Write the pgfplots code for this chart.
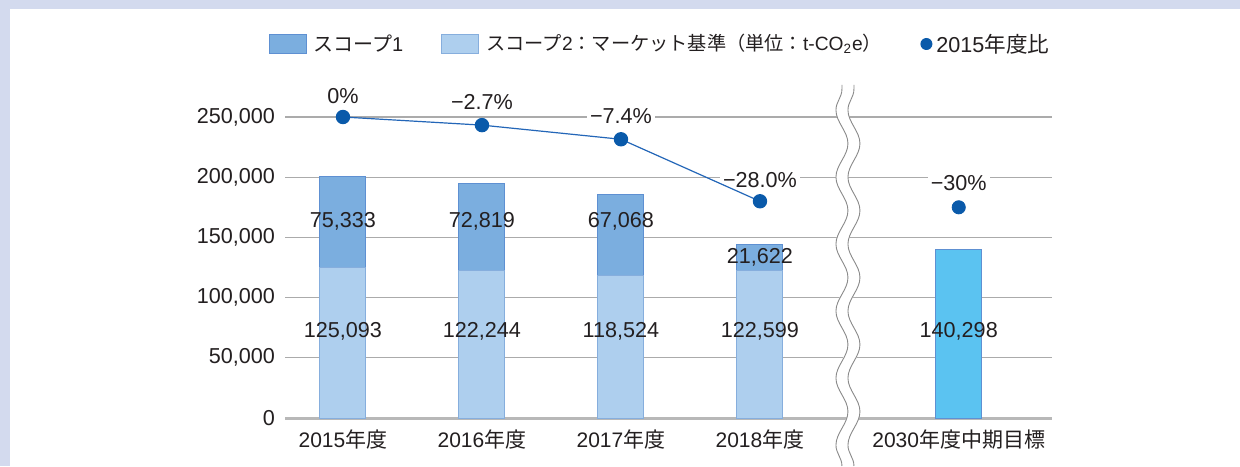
\documentclass[border=0pt]{standalone}
\usepackage{fontspec}
\setmainfont{Liberation Sans}
\newfontfamily\cjk{Noto Sans CJK JP}
\usepackage{pgfplots}
\usepackage{pgfplotstable}
\pgfplotsset{compat=1.18}
\usetikzlibrary{decorations.pathmorphing}

\definecolor{sOne}{HTML}{7BAEDF}
\definecolor{sOneB}{HTML}{5E90D2}
\definecolor{sTwo}{HTML}{AECFEE}
\definecolor{sTwoB}{HTML}{86AEDD}
\definecolor{tgt}{HTML}{5BC3F1}
\definecolor{tgtB}{HTML}{5E90D2}
\definecolor{mk}{HTML}{0A5AAA}
\definecolor{ln}{HTML}{2366B8}
\definecolor{gridc}{HTML}{ABABAB}
\definecolor{txt}{HTML}{231F20}
\definecolor{framec}{HTML}{D3DAEE}
\definecolor{brk}{HTML}{8A8A8A}

\pgfplotstableread{
x s2 s1
0 125093 75333
1 122244 72819
2 118524 67068
3 122599 21622
}\emissions

\pgfplotstableread{
x v
4.43 140298
}\target

\pgfplotstableread{
x r
0 250000
1 243250
2 231500
3 180000
}\ratio

\pgfplotstableread{
x r
4.43 175000
}\ratiotarget

\newcommand{\numfont}{\fontsize{10.8}{12}\selectfont}

\begin{document}
\begin{tikzpicture}[x=1pt,y=1pt]
\fill[white] (0,0) rectangle (620,233);
\fill[framec] (0,228.5) rectangle (620,233);
\fill[framec] (0,0) rectangle (5,233);
\useasboundingbox (0,0) rectangle (620,233);

% legend
\fill[sOne, draw=sOneB, line width=0.4pt] (134.5,206.5) rectangle (153,216);
\node[anchor=west, inner sep=0pt, text=txt, font=\fontsize{10}{12}\selectfont] at (156.5,211) {{\cjk スコープ}1};
\fill[sTwo, draw=sTwoB, line width=0.4pt] (220.5,206.5) rectangle (239,216);
\node[anchor=west, inner sep=0pt, text=txt, font=\fontsize{9.6}{12}\selectfont] at (243,211) {{\cjk スコープ}2{\cjk ：マーケット基準（単位：}t-CO\textsubscript{2}e{\cjk ）}};
\fill[mk] (463.2,211) circle (3pt);
\node[anchor=west, inner sep=0pt, text=txt, font=\fontsize{10.8}{12}\selectfont] at (468,211) {2015{\cjk 年度比}};

\begin{axis}[
  at={(142.5pt,24pt)}, anchor=south west,
  scale only axis, width=383.5pt, height=150.5pt,
  xmin=-0.417, xmax=5.101, ymin=0, ymax=250000,
  clip=false,
  axis line style={draw=none},
  major tick length=0pt,
  ytick={0,50000,100000,150000,200000,250000},
  yticklabels={0,{50,000},{100,000},{150,000},{200,000},{250,000}},
  ymajorgrids, grid style={gridc, line width=0.65pt},
  scaled y ticks=false,
  yticklabel style={font=\numfont, text=txt, anchor=east, xshift=-1.5pt},
  xtick={0,1,2,3,4.43},
  xticklabels={2015{\cjk 年度},2016{\cjk 年度},2017{\cjk 年度},2018{\cjk 年度},2030{\cjk 年度中期目標}},
  xticklabel style={font=\fontsize{10.5}{12}\selectfont, text=txt, anchor=north, yshift=-2.5pt},
]
\draw[gridc!85, line width=1.5pt] (axis cs:-0.417,0) -- (axis cs:5.101,0);

% percent labels (under the line, over the grid)
\begin{scope}[every node/.style={text=txt, font=\numfont, fill=white, inner sep=1.5pt}]
\node[yshift=10.5pt] at (axis cs:0,250000) {0\%};
\node[yshift=11.5pt] at (axis cs:1,243250) {−2.7\%};
\node[yshift=11.5pt] at (axis cs:2,231500) {−7.4\%};
\node[yshift=10.5pt] at (axis cs:3,180000) {−28.0\%};
\node[yshift=12pt] at (axis cs:4.43,175000) {−30\%};
\end{scope}

\addplot[ybar, bar width=23pt, bar shift=0pt, fill=sOne, draw=sOneB, line width=0.5pt]
  table[x=x, y expr=\thisrow{s2}+\thisrow{s1}] {\emissions};
\addplot[ybar, bar width=23pt, bar shift=0pt, fill=sTwo, draw=sTwoB, line width=0.5pt]
  table[x=x, y=s2] {\emissions};
\addplot[ybar, bar width=23pt, bar shift=0pt, fill=tgt, draw=tgtB, line width=0.5pt]
  table[x=x, y=v] {\target};

\addplot[ln, line width=0.6pt, mark=*, mark size=3.3pt, mark options={fill=mk, draw=mk}]
  table[x=x, y=r] {\ratio};
\addplot[only marks, mark=*, mark size=3.3pt, mark options={fill=mk, draw=mk}]
  table[x=x, y=r] {\ratiotarget};

% segment labels
\begin{scope}[every node/.style={text=txt, font=\numfont, inner sep=0pt}]
\node at (axis cs:0,163600) {75,333};
\node at (axis cs:1,163600) {72,819};
\node at (axis cs:2,163600) {67,068};
\node at (axis cs:3,133700) {21,622};
\node at (axis cs:0,72260) {125,093};
\node at (axis cs:1,72260) {122,244};
\node at (axis cs:2,72260) {118,524};
\node at (axis cs:3,72260) {122,599};
\node at (axis cs:4.43,72260) {140,298};
\end{scope}

% axis break
\coordinate (bk) at (axis cs:3.633,0);
\draw[white, line width=6pt, decorate, decoration={snake, segment length=33.5pt, amplitude=3pt}]
  ([yshift=-24pt]bk) -- ([yshift=166.5pt]bk);
\draw[brk, line width=0.45pt, decorate, decoration={snake, segment length=33.5pt, amplitude=3pt}]
  ([yshift=-24pt, xshift=-3pt]bk) -- ([yshift=166.5pt, xshift=-3pt]bk);
\draw[brk, line width=0.45pt, decorate, decoration={snake, segment length=33.5pt, amplitude=3pt}]
  ([yshift=-24pt, xshift=3pt]bk) -- ([yshift=166.5pt, xshift=3pt]bk);
\end{axis}
\end{tikzpicture}
\end{document}
